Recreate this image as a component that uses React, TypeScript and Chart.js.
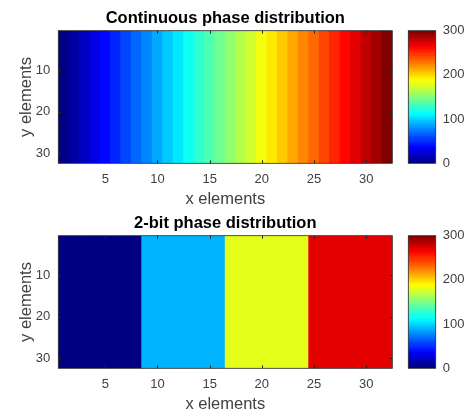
import React, { useEffect, useRef } from "react";
import { Chart, registerables } from "chart.js";
Chart.register(...registerables);

// ---- data ----
const xElements = [1, 2, 3, 4, 5, 6, 7, 8, 9, 10, 11, 12, 13, 14, 15, 16, 17, 18, 19, 20, 21, 22, 23, 24, 25, 26, 27, 28, 29, 30, 31, 32];
const yExtent = [0.5, 32.5];
const continuousPhase = [0, 10, 19, 29, 39, 48, 58, 68, 77, 87, 97, 106, 116, 126, 135, 145, 155, 165, 174, 184, 194, 203, 213, 223, 232, 242, 252, 261, 271, 281, 290, 300];
const twoBitPhase = [0, 0, 0, 0, 0, 0, 0, 0, 90, 90, 90, 90, 90, 90, 90, 90, 180, 180, 180, 180, 180, 180, 180, 180, 270, 270, 270, 270, 270, 270, 270, 270];
const xTickValues = [5, 10, 15, 20, 25, 30];
const yTickValues = [10, 20, 30];
const colorbarTicks = [0, 100, 200, 300];
const phaseLimits = [0, 300];
const titleTop = "Continuous phase distribution";
const titleBottom = "2-bit phase distribution";
const xLabel = "x elements";
const yLabel = "y elements";

const FONT = "'Liberation Sans', Arial, sans-serif";
const TICK_COLOR = "#404040";
const FRAME_COLOR = "#262626";

function jet(t: number): string {
  const tt = Math.max(0, Math.min(1, t));
  const f = (v: number) => Math.max(0, Math.min(1, 1.5 - Math.abs(v)));
  const r = Math.round(255 * f(4 * tt - 3));
  const g = Math.round(255 * f(4 * tt - 2));
  const b = Math.round(255 * f(4 * tt - 1));
  return `rgb(${r},${g},${b})`;
}
const norm = (v: number) => (v - phaseLimits[0]) / (phaseLimits[1] - phaseLimits[0]);

const CANVAS_W = 471;
const CANVAS_H = 208;
const AREA_LEFT = 58.3;
const AREA_RIGHT = 392.3;
const AREA_TOP = 30.7;
const AREA_BOTTOM = 163.3;

function heatmapConfig(values: number[], title: string): any {
  const titlePlugin = {
    id: "panelTitle",
    afterDraw(chart: any) {
      const a = chart.chartArea;
      const ctx = chart.ctx;
      ctx.save();
      ctx.font = `bold 16.5px ${FONT}`;
      ctx.fillStyle = "#000";
      ctx.textAlign = "center";
      ctx.textBaseline = "middle";
      ctx.fillText(title, (a.left + a.right) / 2, a.top - 12);
      ctx.restore();
    },
  };
  const framePlugin = {
    id: "frame",
    afterDatasetsDraw(chart: any) {
      const a = chart.chartArea;
      const ctx = chart.ctx;
      const xs = chart.scales.x;
      const ys = chart.scales.y;
      ctx.save();
      ctx.strokeStyle = FRAME_COLOR;
      ctx.lineWidth = 1;
      ctx.beginPath();
      for (const v of xTickValues) {
        const px = Math.round(xs.getPixelForValue(v)) + 0.5;
        ctx.moveTo(px, a.bottom);
        ctx.lineTo(px, a.bottom - 3);
        ctx.moveTo(px, a.top);
        ctx.lineTo(px, a.top + 3);
      }
      for (const v of yTickValues) {
        const py = Math.round(ys.getPixelForValue(v)) + 0.5;
        ctx.moveTo(a.left, py);
        ctx.lineTo(a.left + 3, py);
        ctx.moveTo(a.right, py);
        ctx.lineTo(a.right - 3, py);
      }
      ctx.stroke();
      ctx.lineWidth = 0.8;
      ctx.strokeRect(a.left, a.top, a.right - a.left, a.bottom - a.top);
      ctx.restore();
    },
  };
  return {
    type: "bar",
    data: {
      datasets: [
        {
          data: xElements.map((x) => ({ x, y: [yExtent[0], yExtent[1]] })),
          backgroundColor: values.map((v) => jet(norm(v))),
          borderWidth: 0,
          barPercentage: 1,
          categoryPercentage: 1,
          inflateAmount: 0.5,
        },
      ],
    },
    options: {
      animation: false,
      responsive: false,
      events: [],
      layout: { padding: { top: AREA_TOP, right: CANVAS_W - AREA_RIGHT, left: 0, bottom: 0 } },
      plugins: { legend: { display: false }, tooltip: { enabled: false }, title: { display: false } },
      scales: {
        x: {
          type: "linear",
          min: 0.5,
          max: 32.5,
          offset: false,
          grid: { display: false, drawTicks: false, offset: false },
          border: { display: false },
          afterBuildTicks: (s: any) => {
            s.ticks = xTickValues.map((v) => ({ value: v }));
          },
          afterFit: (s: any) => {
            s.height = CANVAS_H - AREA_BOTTOM;
          },
          ticks: { color: TICK_COLOR, font: { family: FONT, size: 13 }, padding: 8, maxRotation: 0, autoSkip: false },
          title: { display: true, text: xLabel, color: TICK_COLOR, font: { family: FONT, size: 16.5, lineHeight: 1 }, padding: { top: 0, bottom: 0 } },
        },
        y: {
          type: "linear",
          reverse: true,
          min: 0.5,
          max: 32.5,
          grid: { display: false, drawTicks: false },
          border: { display: false },
          afterBuildTicks: (s: any) => {
            s.ticks = yTickValues.map((v) => ({ value: v }));
          },
          afterFit: (s: any) => {
            s.width = AREA_LEFT;
          },
          ticks: { color: TICK_COLOR, font: { family: FONT, size: 13 }, padding: 8, autoSkip: false },
          title: { display: true, text: yLabel, color: TICK_COLOR, font: { family: FONT, size: 16.5 }, padding: { top: 17, bottom: 0 } },
        },
      },
    },
    plugins: [titlePlugin, framePlugin],
  };
}

function colorbarConfig(): any {
  const framePlugin = {
    id: "cbframe",
    afterDatasetsDraw(chart: any) {
      const a = chart.chartArea;
      const ctx = chart.ctx;
      ctx.save();
      ctx.strokeStyle = FRAME_COLOR;
      ctx.lineWidth = 0.8;
      ctx.strokeRect(a.left, a.top, a.right - a.left, a.bottom - a.top);
      ctx.restore();
    },
  };
  return {
    type: "bar",
    data: {
      labels: ["phase"],
      datasets: [
        {
          data: [[phaseLimits[0], phaseLimits[1]]],
          backgroundColor: (c: any) => {
            const chart = c.chart;
            const a = chart.chartArea;
            if (!a) return "rgba(0,0,0,0)";
            const g = chart.ctx.createLinearGradient(0, a.bottom, 0, a.top);
            const n = 64;
            for (let k = 0; k < n; k++) {
              const col = jet((k + 0.5) / n);
              g.addColorStop(k / n, col);
              g.addColorStop((k + 1) / n, col);
            }
            return g;
          },
          borderWidth: 0,
          barPercentage: 1,
          categoryPercentage: 1,
        },
      ],
    },
    options: {
      animation: false,
      responsive: false,
      events: [],
      layout: { padding: { top: AREA_TOP, right: 0, left: 13.3, bottom: CANVAS_H - AREA_BOTTOM } },
      plugins: { legend: { display: false }, tooltip: { enabled: false }, title: { display: false } },
      scales: {
        x: { display: false },
        y: {
          position: "right",
          min: phaseLimits[0],
          max: phaseLimits[1],
          grid: { display: false, drawTicks: false },
          border: { display: false },
          afterBuildTicks: (s: any) => {
            s.ticks = colorbarTicks.map((v) => ({ value: v }));
          },
          afterFit: (s: any) => {
            s.width = 35.3;
          },
          ticks: { color: TICK_COLOR, font: { family: FONT, size: 13 }, padding: 7, autoSkip: false },
        },
      },
    },
    plugins: [framePlugin],
  };
}

function Panel({ config, left, top, width, height }: any) {
  const ref = useRef<HTMLCanvasElement>(null);
  useEffect(() => {
    if (!ref.current) return;
    const chart = new Chart(ref.current, config);
    return () => chart.destroy();
  }, []);
  return (
    <canvas
      ref={ref}
      width={width}
      height={height}
      style={{ position: "absolute", left, top, width, height }}
    />
  );
}

export default function App() {
  return (
    <div style={{ position: "absolute", left: 0, top: 0, width: 471, height: 413, background: "#fff", overflow: "hidden" }}>
      <Panel config={heatmapConfig(continuousPhase, titleTop)} left={0} top={0} width={CANVAS_W} height={CANVAS_H} />
      <Panel config={colorbarConfig()} left={395} top={0} width={76} height={CANVAS_H} />
      <Panel config={heatmapConfig(twoBitPhase, titleBottom)} left={0} top={205} width={CANVAS_W} height={CANVAS_H} />
      <Panel config={colorbarConfig()} left={395} top={205} width={76} height={CANVAS_H} />
    </div>
  );
}
